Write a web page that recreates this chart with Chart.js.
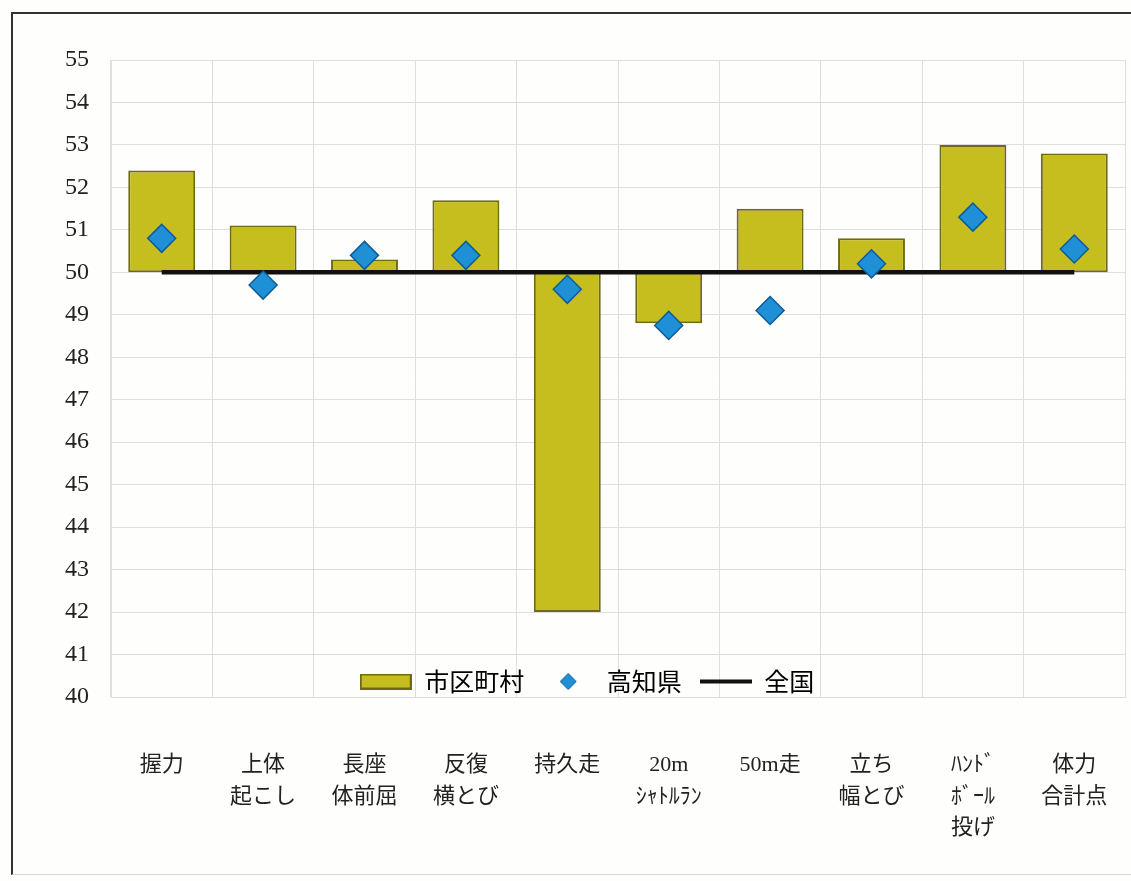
<!DOCTYPE html>
<html>
<head>
<meta charset="utf-8">
<script src="https://cdn.jsdelivr.net/npm/chart.js@4.4.0/dist/chart.umd.min.js"></script>
<style>
  body { margin: 0; background: #fefefc; }
  #wrap { position: relative; width: 1131px; height: 881px; overflow: hidden; }
  #frame { position: absolute; left: 11px; top: 12px; width: 1200px; height: 860px;
           border-left: 2px solid #333; border-top: 2px solid #333; border-bottom: 1px solid #d8d8d8; }
  #myChart { position: absolute; left: 0; top: 0; }
</style>
</head>
<body>
<div id="wrap">
  <div id="frame"></div>
  <canvas id="myChart" width="1131" height="881"></canvas>
</div>
<script>
// categories (multi-line tick labels)
var labels = [
  ["握力"],
  ["上体", "起こし"],
  ["長座", "体前屈"],
  ["反復", "横とび"],
  ["持久走"],
  ["20m", "ｼｬﾄﾙﾗﾝ"],
  ["50m走"],
  ["立ち", "幅とび"],
  ["ﾊﾝﾄﾞ", "ﾎﾞｰﾙ", "投げ"],
  ["体力", "合計点"]
];

// 市区町村 (bars start at the national line)
var shikuchoson = [52.4, 51.1, 50.3, 51.7, 42.0, 48.8, 51.5, 50.8, 53.0, 52.8];
// 高知県
var kochi = [50.8, 49.7, 50.4, 50.4, 49.6, 48.75, 49.1, 50.2, 51.3, 50.55];
// 全国
var zenkoku = [50, 50, 50, 50, 50, 50, 50, 50, 50, 50];

var yTicks = { min: 40, max: 55, step: 1 };

var barFill = "#c6be1e";
var barEdge = "#6f6a14";
var blue = "#1f8fd6";
var blueEdge = "#0d5d99";

var floating = [];
for (let i = 0; i < shikuchoson.length; i++) {
  floating.push([zenkoku[i], shikuchoson[i]]);
}

// little swatches for the legend
function swatchBar() {
  var c = document.createElement("canvas");
  c.width = 52; c.height = 16;
  var g = c.getContext("2d");
  g.fillStyle = barFill;
  g.fillRect(1, 1, 50, 14);
  g.strokeStyle = barEdge;
  g.lineWidth = 2;
  g.strokeRect(1, 1, 50, 14);
  return c;
}
function swatchDiamond() {
  var c = document.createElement("canvas");
  c.width = 18; c.height = 18;
  var g = c.getContext("2d");
  g.beginPath();
  g.moveTo(9, 1); g.lineTo(17, 9); g.lineTo(9, 17); g.lineTo(1, 9); g.closePath();
  g.fillStyle = blue; g.fill();
  g.strokeStyle = blueEdge; g.lineWidth = 1; g.stroke();
  return c;
}
function swatchLine() {
  var c = document.createElement("canvas");
  c.width = 52; c.height = 6;
  var g = c.getContext("2d");
  g.fillStyle = "#111";
  g.fillRect(0, 1, 52, 4);
  return c;
}

// move the legend into the plot, just above the 40 line
const legendInside = {
  id: "legendInside",
  afterLayout(chart) {
    const lg = chart.legend;
    if (!lg) return;
    lg.top = 651;
    lg.bottom = 651 + 70;
    lg.height = 70;
    lg.left = 0;
    lg.right = 1174;
  }
};

const data = {
  labels: labels,
  datasets: [
    {
      type: "bar",
      label: "市区町村",
      data: floating,
      backgroundColor: barFill,
      borderColor: barEdge,
      borderWidth: 2,
      borderSkipped: false,
      barPercentage: 0.66,
      categoryPercentage: 1,
      order: 3
    },
    {
      type: "line",
      label: "全国",
      data: zenkoku,
      borderColor: "#111",
      borderWidth: 4.5,
      pointRadius: 0,
      fill: false,
      order: 2
    },
    {
      type: "line",
      label: "高知県",
      data: kochi,
      showLine: false,
      pointStyle: "rectRot",
      pointRadius: 14,
      pointBackgroundColor: blue,
      pointBorderColor: blueEdge,
      pointBorderWidth: 1.5,
      order: 1
    }
  ]
};

const config = {
  type: "bar",
  data: data,
  plugins: [legendInside],
  options: {
    responsive: false,
    animation: false,
    layout: { autoPadding: false, padding: { left: 20, top: 60, right: 6, bottom: 0 } },
    plugins: {
      tooltip: { enabled: false },
      legend: {
        position: "bottom",
        maxHeight: 1,
        labels: {
          usePointStyle: true,
          pointStyleWidth: 52,
          boxHeight: 14,
          padding: 18,
          color: "#222",
          font: { family: "'Noto Sans CJK JP', sans-serif", size: 25 },
          generateLabels: function () {
            return [
              { text: "市区町村", pointStyle: swatchBar(), fillStyle: barFill, strokeStyle: barEdge, lineWidth: 0, hidden: false, datasetIndex: 0 },
              { text: "高知県", pointStyle: swatchDiamond(), fillStyle: blue, strokeStyle: blueEdge, lineWidth: 0, hidden: false, datasetIndex: 2 },
              { text: "全国", pointStyle: swatchLine(), fillStyle: "#111", strokeStyle: "#111", lineWidth: 0, hidden: false, datasetIndex: 1 }
            ];
          }
        }
      }
    },
    scales: {
      x: {
        offset: true,
        grid: { color: "#dedede", lineWidth: 1, drawTicks: false, offset: true },
        border: { color: "#dedede" },
        ticks: {
          color: "#222",
          padding: 53,
          maxRotation: 0,
          autoSkip: false,
          font: { family: "'Liberation Serif', 'Noto Sans CJK JP', serif", size: 22, lineHeight: 1.42 }
        },
        afterFit: function (s) {
          const lg = s.chart.legend;
          s.height = 881 - (lg ? lg.height : 0) - 697;
          s.paddingLeft = 0;
          s.paddingRight = 0;
        }
      },
      y: {
        min: yTicks.min,
        max: yTicks.max,
        grid: { color: "#dedede", lineWidth: 1, drawTicks: false },
        border: { color: "#dedede" },
        ticks: {
          stepSize: yTicks.step,
          color: "#222",
          padding: 22,
          font: { family: "'Liberation Serif', serif", size: 24 }
        },
        afterFit: function (s) {
          s.width = 91;
        }
      }
    }
  }
};

const myChart = new Chart(document.getElementById("myChart"), config);
</script>
</body>
</html>
